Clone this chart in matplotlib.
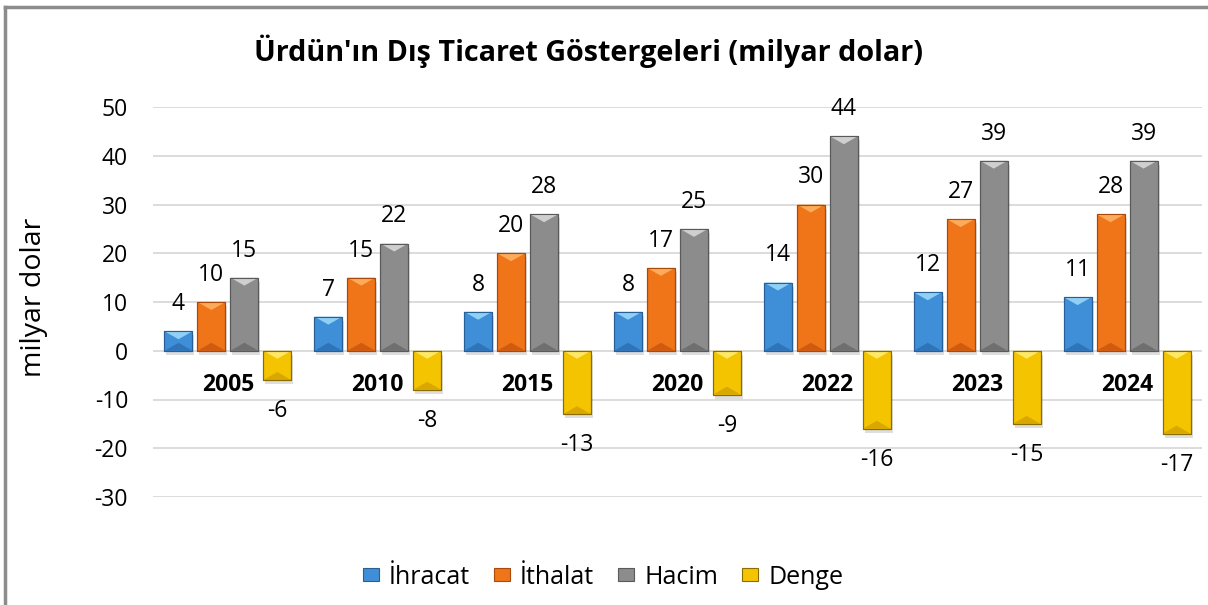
import matplotlib.pyplot as plt
from matplotlib.patches import Polygon, Rectangle
from matplotlib.lines import Line2D

plt.rcParams['font.family'] = ['Open Sans', 'DejaVu Sans']
plt.rcParams['axes.unicode_minus'] = False

# data (milyar dolar)
years = ['2005', '2010', '2015', '2020', '2022', '2023', '2024']
ihracat = [4, 7, 8, 8, 14, 12, 11]
ithalat = [10, 15, 20, 17, 30, 27, 28]
hacim = [15, 22, 28, 25, 44, 39, 39]
denge = [-6, -8, -13, -9, -16, -15, -17]
names = ['İhracat', 'İthalat', 'Hacim', 'Denge']

# body, light top, dark bottom, edge
styles = [
    ('#3f8fd8', '#8fd0f5', '#2f74b8', '#2a5f95'),
    ('#f07418', '#fbab5a', '#cf5a10', '#a84a0c'),
    ('#8c8c8c', '#cfcfcf', '#6f6f6f', '#5a5a5a'),
    ('#f5c400', '#ffe866', '#d9a800', '#8a6d00'),
]

W, H = 1208, 605
fig = plt.figure(figsize=(W / 100, H / 100), dpi=100)
ax = fig.add_axes([153 / W, 1 - 497 / H, 1049 / W, 390 / H])
ax.set_xlim(-0.5, 6.5)
ax.set_ylim(-30, 50)

# pixel -> data conversion
px_x = 7 / 1049
px_y = 80 / 390

series = [ihracat, ithalat, hacim, denge]
bw = 0.187
step = 0.22
x = list(range(len(years)))

for i, vals in enumerate(series):
    body, light, dark, edge = styles[i]
    xs = [xx + (i - 1.5) * step for xx in x]
    bars = ax.bar(xs, vals, width=bw, color=body, edgecolor=edge, linewidth=0.8, zorder=3)
    for b, v in zip(bars, vals):
        x0 = b.get_x()
        x1 = x0 + b.get_width()
        xc = (x0 + x1) / 2
        ytop = max(0, v)
        ybot = min(0, v)
        # shadow
        ax.add_patch(Rectangle((x0 + 2 * px_x, ybot - 4 * px_y), x1 - x0, ytop - ybot,
                               color='black', alpha=0.13, lw=0, zorder=2))
        d = min(8 * px_y, (ytop - ybot) / 2)
        ax.add_patch(Polygon([(x0, ytop), (x1, ytop), (xc, ytop - d)], closed=True,
                             facecolor=light, edgecolor='none', zorder=3.5))
        ax.add_patch(Polygon([(x0, ybot), (x1, ybot), (xc, ybot + d)], closed=True,
                             facecolor=dark, edgecolor='none', zorder=3.5))
        ax.add_patch(Rectangle((x0, ybot), x1 - x0, ytop - ybot, facecolor='none',
                               edgecolor=edge, lw=0.8, zorder=4))
        if v >= 0:
            ax.annotate(str(v), (xc, v), xytext=(0, 19.5), textcoords='offset points',
                        ha='center', va='center', fontsize=16.5, zorder=5)
        else:
            ax.annotate(str(v), (xc, v), xytext=(0, -22.5), textcoords='offset points',
                        ha='center', va='center', fontsize=16.5, zorder=5)

# category labels inside plot under zero line
for xx, yr in zip(x, years):
    ax.annotate(yr, (xx, 0), xytext=(0, -24.5), textcoords='offset points',
                ha='center', va='center', fontsize=16.5, fontweight='bold', zorder=5)

ax.set_yticks(range(-30, 51, 10))
ax.set_xticks([])
ax.tick_params(axis='y', length=0, pad=18, labelsize=16.5)
ax.grid(axis='y', color='#d9d9d9', lw=1.3, zorder=0)
ax.set_axisbelow(True)
for s in ax.spines.values():
    s.set_visible(False)

fig.text(589 / W, 1 - 51 / H, "Ürdün'ın Dış Ticaret Göstergeleri (milyar dolar)",
         ha='center', va='center', fontsize=20.7, fontweight='bold')
fig.text(34 / W, 1 - 297 / H, 'milyar dolar', rotation=90, ha='center', va='center',
         fontsize=20.5)

handles = [Rectangle((0, 0), 1, 1, facecolor=s[0], edgecolor=s[3], lw=0.8) for s in styles]
fig.legend(handles, names, loc='center', bbox_to_anchor=(603 / W, 1 - 577 / H), ncol=4,
           frameon=False, fontsize=18, handlelength=0.65, handleheight=0.45,
           handletextpad=0.4, columnspacing=0.95)

# outer frame
fig.add_artist(Line2D([5 / W, 5 / W], [0, 1 - 7 / H], color='#8c8c8c', lw=2.5))
fig.add_artist(Line2D([5 / W, 1], [1 - 7 / H, 1 - 7 / H], color='#8c8c8c', lw=2.5))

fig.savefig('out.png', dpi=100)
